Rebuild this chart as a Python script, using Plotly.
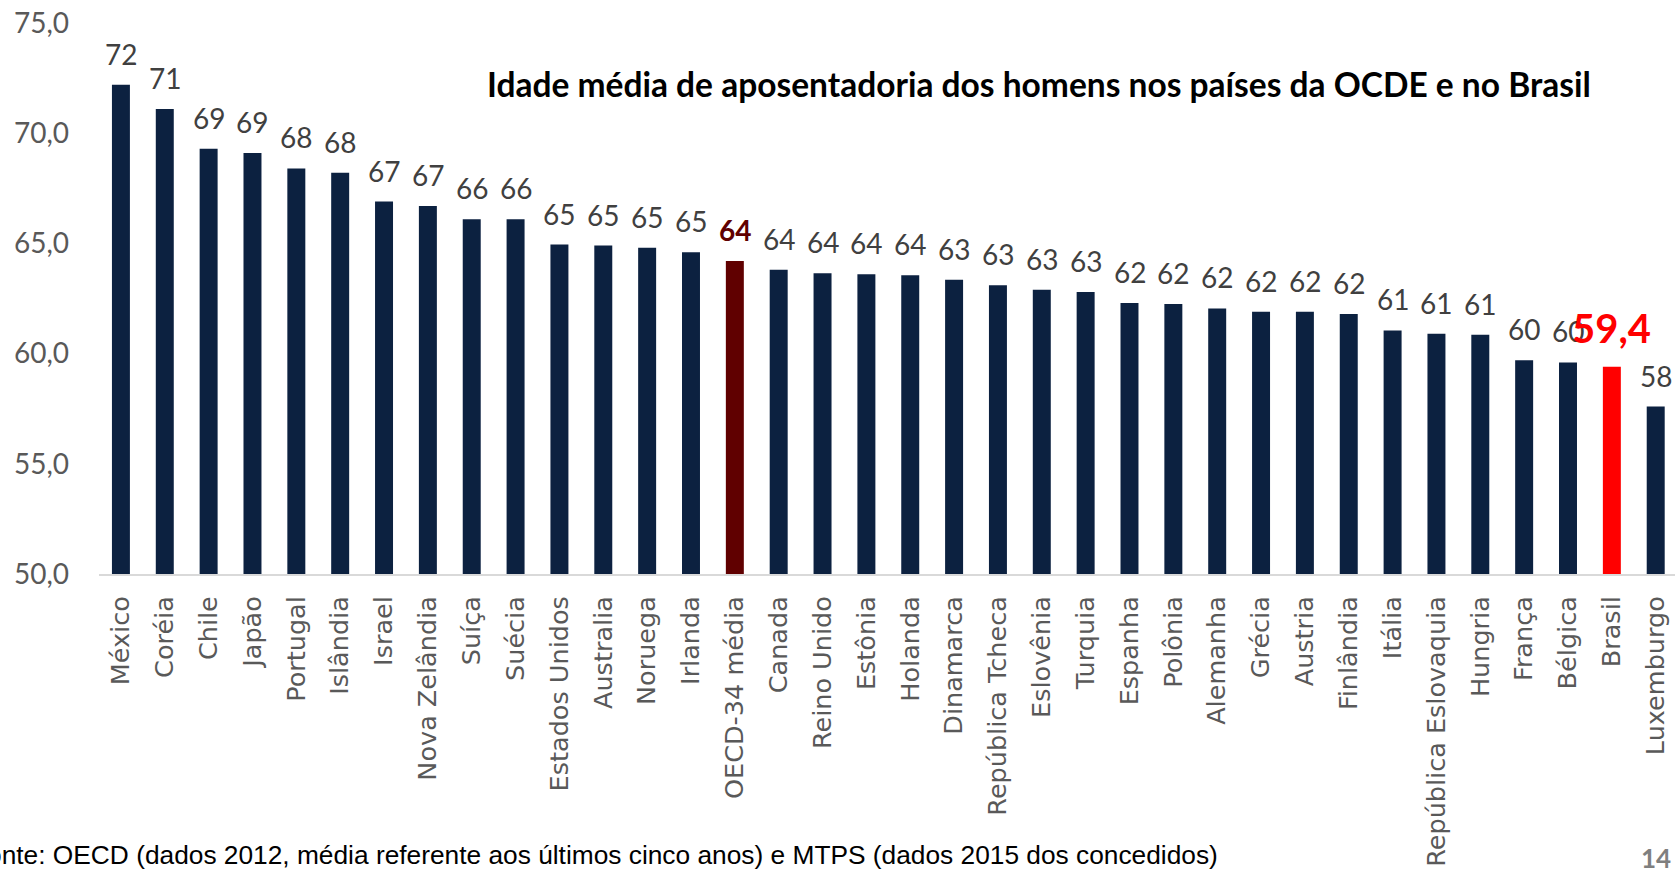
import plotly.graph_objects as go

categories = ["México", "Coréia", "Chile", "Japão", "Portugal", "Islândia", "Israel",
              "Nova Zelândia", "Suíça", "Suécia", "Estados Unidos", "Australia", "Noruega",
              "Irlanda", "OECD-34 média", "Canada", "Reino Unido", "Estônia", "Holanda",
              "Dinamarca", "República Tcheca", "Eslovênia", "Turquia", "Espanha", "Polônia",
              "Alemanha", "Grécia", "Austria", "Finlândia", "Itália", "República Eslovaquia",
              "Hungria", "França", "Bélgica", "Brasil", "Luxemburgo"]
values = [72.2, 71.1, 69.3, 69.1, 68.4, 68.2, 66.9, 66.7, 66.1, 66.1, 64.95, 64.9, 64.8,
          64.6, 64.2, 63.8, 63.65, 63.6, 63.55, 63.35, 63.1, 62.9, 62.8, 62.3, 62.25,
          62.05, 61.9, 61.9, 61.8, 61.05, 60.9, 60.85, 59.7, 59.6, 59.4, 57.6]
y_ticks = [50, 55, 60, 65, 70, 75]

TITLE = "Idade média de aposentadoria dos homens nos países da OCDE e no Brasil"
SOURCE = "Fonte: OECD (dados 2012, média referente aos últimos cinco anos) e MTPS (dados 2015 dos concedidos)"
PAGE = "14"

BASE = "#0c2140"
OECD = "#600000"
BR = "#ff0000"

colors = []
for c in categories:
    if c == "OECD-34 média":
        colors.append(OECD)
    elif c == "Brasil":
        colors.append(BR)
    else:
        colors.append(BASE)

fig = go.Figure(go.Bar(x=categories, y=values, marker=dict(color=colors, line=dict(width=0)),
                       width=0.41, hoverinfo="skip"))

annotations = []
for c, v in zip(categories, values):
    if c == "Brasil":
        txt = f"{v:.1f}".replace(".", ",")
        font = dict(family="Lato", size=40, color=BR, weight="bold")
        shift = 13
    elif c == "OECD-34 média":
        txt = f"{v:.0f}"
        font = dict(family="Lato", size=28, color=OECD, weight="bold")
        shift = 12
    else:
        txt = f"{v:.0f}"
        font = dict(family="Lato", size=28, color="#404040")
        shift = 12
    annotations.append(dict(x=c, y=v, xref="x", yref="y", text=txt, showarrow=False,
                            yanchor="bottom", xanchor="center", yshift=shift, font=font))

L, R, T, B = 99, 0, 23, 302
W, H = 1675, 876
pw, ph = W - L - R, H - T - B


def px_to_paper(xp, yp):
    return (xp - L) / pw, (H - B - yp) / ph


tx, ty = px_to_paper(1039, 84)
annotations.append(dict(x=tx, y=ty, xref="paper", yref="paper", xanchor="center", yanchor="middle",
                        text=TITLE, showarrow=False,
                        font=dict(family="Lato", size=33.5, color="#000000", weight="bold")))
sx, sy = px_to_paper(-31, 855)
annotations.append(dict(x=sx, y=sy, xref="paper", yref="paper", xanchor="left", yanchor="middle",
                        text=SOURCE, showarrow=False,
                        font=dict(family="Liberation Sans, Arial", size=26.3, color="#000000")))
qx, qy = px_to_paper(1673, 858)
annotations.append(dict(x=qx, y=qy, xref="paper", yref="paper", xanchor="right", yanchor="middle",
                        text=PAGE, showarrow=False,
                        font=dict(family="Lato", size=26, color="#7f7f7f", weight="bold")))

fig.update_layout(
    width=W, height=H,
    margin=dict(l=L, r=R, t=T, b=B, autoexpand=False),
    paper_bgcolor="white", plot_bgcolor="white",
    separators=",.",
    showlegend=False,
    annotations=annotations,
    xaxis=dict(range=[-0.5, 35.44], showline=True, linecolor="#d9d9d9", linewidth=2,
               ticks="", tickangle=-90, showgrid=False, zeroline=False,
               tickfont=dict(family="DejaVu Sans", size=25.5, color="#595959"),
               ticklabelstandoff=10),
    yaxis=dict(range=[50, 75], tickvals=y_ticks, tickformat=".1f", showgrid=False,
               zeroline=False, showline=False, ticks="",
               tickfont=dict(family="Lato", size=28, color="#595959"),
               ticklabelstandoff=29),
)

fig.write_html("out.html", config={"displayModeBar": False},
               post_script="document.body.style.margin='0';")
